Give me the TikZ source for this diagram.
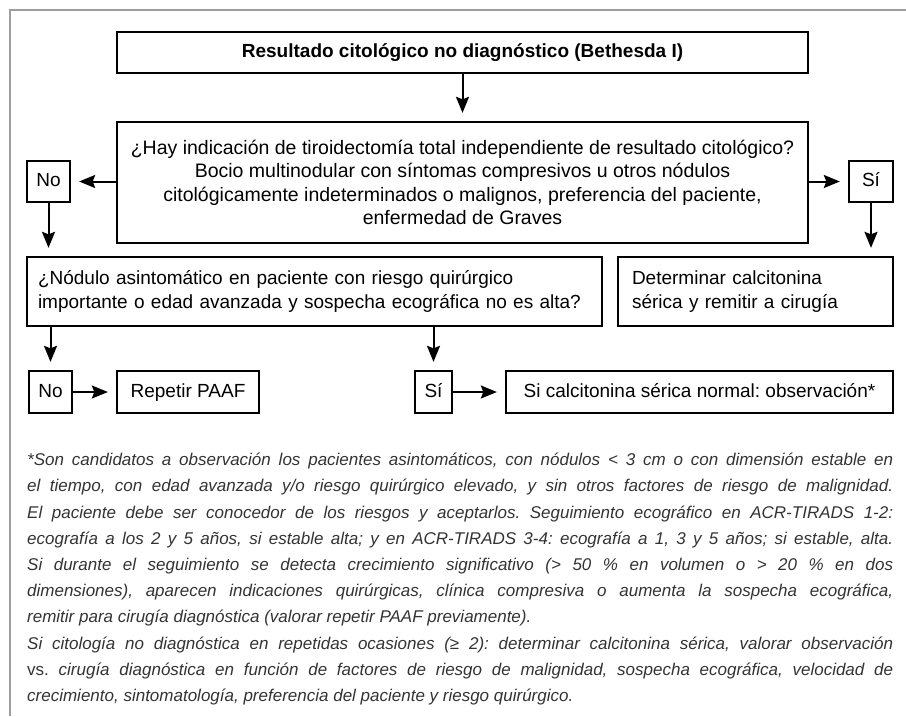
\documentclass[tikz,border=0pt]{standalone}
\usepackage{fontspec}
\setmainfont{Liberation Sans}
\usetikzlibrary{arrows.meta}
\newcommand\jline[1]{\hbox to\hsize{#1}}
\frenchspacing
\begin{document}
\begin{tikzpicture}[x=1pt,y=-1pt,
  box/.style={draw, line width=2.3pt, inner sep=0pt, font=\fontsize{19}{23.3}\selectfont},
  one/.style={box, text height=14pt, text depth=4pt},
  arr/.style={line width=2pt, -{Stealth[length=16pt,width=13pt,inset=2.5pt]}, shorten >=8pt},
  frame/.style={line width=2.5pt, color=black!38}
]
\useasboundingbox (0,0) rectangle (906,716);
\draw[frame] (10,716) -- (10,10) -- (906,10);

\node[one, minimum width=691pt, minimum height=41pt, font=\bfseries\fontsize{19}{23}\selectfont] (top) at (462.5,52.5) {Resultado citológico no diagnóstico (Bethesda I)};
\node[box, minimum width=691pt, minimum height=121pt, align=center, font=\fontsize{19.5}{23.3}\selectfont] (q1) at (462.5,182.5)
  {¿Hay indicación de tiroidectomía total independiente de resultado citológico?\\
   Bocio multinodular con síntomas compresivos u otros nódulos\\
   citológicamente indeterminados o malignos, preferencia del paciente,\\
   enfermedad de Graves};
\node[one, minimum width=43pt, minimum height=41pt] (no1) at (48.5,181.5) {No};
\node[one, minimum width=44pt, minimum height=41pt] (si1) at (871,181.5) {Sí};
\node[box, minimum width=575pt, minimum height=69pt, align=left, text width=553pt] (q2) at (314.5,291.5)
  {¿Nódulo asintomático en paciente con riesgo quirúrgico\\
   importante o edad avanzada y sospecha ecográfica no es alta?};
\node[box, minimum width=275pt, minimum height=69pt, align=left, text width=247pt] (det) at (755.5,291.5)
  {Determinar calcitonina\\ sérica y remitir a cirugía};
\node[one, minimum width=43pt, minimum height=42pt] (no2) at (50.5,392) {No};
\node[one, minimum width=142pt, minimum height=42pt] (rep) at (188,392) {Repetir PAAF};
\node[one, minimum width=37pt, minimum height=42pt] (si2) at (433.5,392) {Sí};
\node[one, minimum width=387pt, minimum height=42pt] (obs) at (699.5,392) {Si calcitonina sérica normal: observación*};

\draw[arr] (top) -- (q1);
\draw[arr] (q1.west |- no1) -- (no1);
\draw[arr] (q1.east |- si1) -- (si1);
\draw[arr] (no1.south) -- (no1.south |- q2.north);
\draw[arr] (si1.south) -- (si1.south |- det.north);
\draw[arr] (no2.north |- q2.south) -- (no2.north);
\draw[arr] (si2.north |- q2.south) -- (si2.north);
\draw[arr] (no2) -- (rep);
\draw[arr] (si2) -- (obs);

\node[anchor=north west, inner sep=0pt, text=black!80] (note) at (27,453)
{\itshape\fontsize{17}{26.2}\selectfont\vbox{\hsize=866pt
\jline{*Son candidatos a observación los pacientes asintomáticos, con nódulos < 3 cm o con dimensión estable en}
\jline{el tiempo, con edad avanzada y/o riesgo quirúrgico elevado, y sin otros factores de riesgo de malignidad.}
\jline{El paciente debe ser conocedor de los riesgos y aceptarlos. Seguimiento ecográfico en ACR-TIRADS 1-2:}
\jline{ecografía a los 2 y 5 años, si estable alta; y en ACR-TIRADS 3-4: ecografía a 1, 3 y 5 años; si estable, alta.}
\jline{Si durante el seguimiento se detecta crecimiento significativo (> 50 \% en volumen o > 20 \% en dos}
\jline{dimensiones), aparecen indicaciones quirúrgicas, clínica compresiva o aumenta la sospecha ecográfica,}
\hbox{remitir para cirugía diagnóstica (valorar repetir PAAF previamente).}
\jline{Si citología no diagnóstica en repetidas ocasiones (≥ 2): determinar calcitonina sérica, valorar observación}
\jline{{\upshape vs.} cirugía diagnóstica en función de factores de riesgo de malignidad, sospecha ecográfica, velocidad de}
\hbox{crecimiento, sintomatología, preferencia del paciente y riesgo quirúrgico.}
}};
\end{tikzpicture}
\end{document}
